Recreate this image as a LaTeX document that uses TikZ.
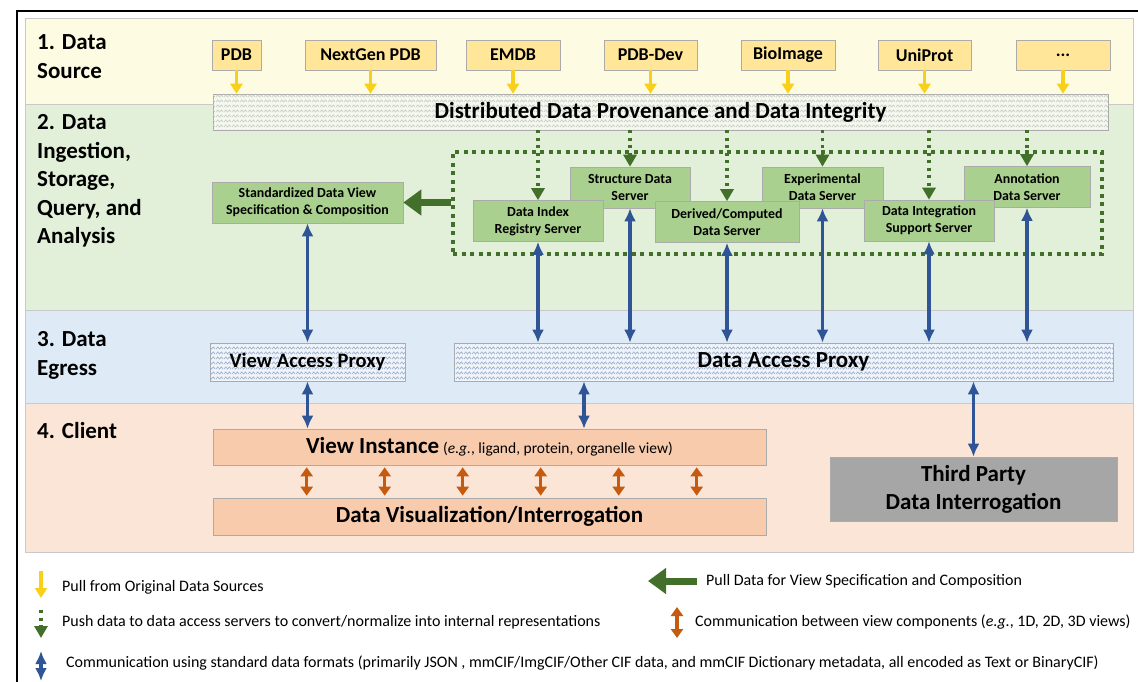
\documentclass[tikz,border=0pt]{standalone}
\usepackage{fontspec}
\setmainfont{Carlito}
\usepackage{tikz}
\usetikzlibrary{arrows.meta}
\usetikzlibrary{patterns}
\tikzset{>=latex}

\definecolor{bandyel}{HTML}{FEFBE3}
\definecolor{bandgrn}{HTML}{E2EFD9}
\definecolor{bandblu}{HTML}{DEEAF6}
\definecolor{bandpch}{HTML}{FBE5D6}
\definecolor{bandline}{HTML}{C9C9C9}
\definecolor{boxline}{HTML}{ABABAB}
\definecolor{srcfill}{HTML}{FFE699}
\definecolor{srvfill}{HTML}{A9D08E}
\definecolor{provfill}{HTML}{F4F8F0}
\definecolor{provzig}{HTML}{C6CEC0}
\definecolor{proxfill}{HTML}{F0F4FA}
\definecolor{proxzig}{HTML}{98AECA}
\definecolor{viewfill}{HTML}{F8CBAD}
\definecolor{thirdfill}{HTML}{A6A6A6}
\definecolor{pullyel}{HTML}{F8D01A}
\definecolor{pushgrn}{HTML}{42702A}
\definecolor{commblue}{HTML}{2F5597}
\definecolor{vieworg}{HTML}{C55A11}

\newcommand\bandfont{\bfseries\fontsize{23}{28.5}\selectfont}
\newcommand\srcfont{\bfseries\fontsize{18}{21}\selectfont}
\newcommand\bigfont{\bfseries\fontsize{23}{28}\selectfont}
\newcommand\srvfont{\bfseries\fontsize{13.9}{17}\selectfont}
\newcommand\legfont{\fontsize{16}{19}\selectfont}

% wavy fill of the provenance and proxy layers
\pgfdeclarepatternformonly{zigzag}{\pgfpoint{0pt}{0pt}}{\pgfpoint{8pt}{4.5pt}}{\pgfpoint{8pt}{4.5pt}}{%
  \pgfsetlinewidth{0.7pt}
  \pgfpathmoveto{\pgfpoint{0pt}{1pt}}
  \pgfpathlineto{\pgfpoint{2pt}{3.4pt}}
  \pgfpathlineto{\pgfpoint{4pt}{1pt}}
  \pgfpathlineto{\pgfpoint{6pt}{3.4pt}}
  \pgfpathlineto{\pgfpoint{8pt}{1pt}}
  \pgfusepath{stroke}}

\tikzset{
  band/.style={draw=bandline, line width=0.6pt},
  bandlabel/.style={anchor=north west, align=left, inner sep=0pt, font=\bandfont},
  srcbox/.style={draw=boxline, fill=srcfill, line width=0.6pt, inner sep=0pt,
    minimum height=30pt, font=\srcfont},
  srvbox/.style={draw=boxline, fill=srvfill, line width=0.6pt, inner sep=0pt,
    minimum height=41pt, align=center, font=\srvfont},
  provbox/.style={draw=boxline, fill=provfill, line width=0.6pt, inner sep=0pt,
    postaction={pattern=zigzag, pattern color=provzig}},
  proxybox/.style={draw=boxline, fill=proxfill, line width=0.6pt, inner sep=0pt,
    minimum height=38pt, postaction={pattern=zigzag, pattern color=proxzig}},
  viewbox/.style={draw=boxline, fill=viewfill, line width=0.6pt, inner sep=0pt,
    minimum width=553pt},
  pullarr/.style={draw=pullyel, line width=3.2pt, -{Triangle[length=10pt,width=12pt]}},
  pusharr/.style={draw=pushgrn, line width=3.4pt, dash pattern=on 3pt off 4.5pt,
    -{Triangle[length=12pt,width=13pt]}},
  commarr/.style={draw=commblue, line width=3.2pt,
    {Latex[length=13pt,width=12pt]}-{Latex[length=13pt,width=12pt]}},
  viewarr/.style={draw=vieworg, line width=3.2pt,
    {Triangle[length=9pt,width=12pt]}-{Triangle[length=9pt,width=12pt]}},
  specarr/.style={draw=pushgrn, line width=7pt, -{Triangle[length=18pt,width=25pt]}},
  legtext/.style={anchor=west, inner sep=0pt, font=\legfont},
}

\begin{document}
\begin{tikzpicture}[x=1pt, y=-1pt]
  \useasboundingbox (0,0) rectangle (1138,682);
  \fill[white] (0,0) rectangle (1138,682);

  % frame and the four layers
  \draw[line width=1.3pt] (17,682) -- (17,11) -- (1138,11);
  \filldraw[band, fill=bandyel] (25,18)  rectangle (1133,104);
  \filldraw[band, fill=bandgrn] (25,104) rectangle (1133,310);
  \filldraw[band, fill=bandblu] (25,310) rectangle (1133,403);
  \filldraw[band, fill=bandpch] (25,403) rectangle (1133,552);

  \node[bandlabel] (lay1) at (37,34.5)  {1. Data\\Source};
  \node[bandlabel] (lay2) at (37,114.5) {2. Data\\Ingestion,\\Storage,\\Query, and\\Analysis};
  \node[bandlabel] (lay3) at (37,331.5) {3. Data\\Egress};
  \node[bandlabel] (lay4) at (37,422.5) {4. Client};

  % data sources
  \node[srcbox, minimum width=49pt]  (pdb)     at (236.5,55)  {PDB};
  \node[srcbox, minimum width=131pt] (ngpdb)   at (370.5,55)  {NextGen PDB};
  \node[srcbox, minimum width=94pt]  (emdb)    at (513,55)    {EMDB};
  \node[srcbox, minimum width=93pt]  (pdbdev)  at (650.5,55)  {PDB-Dev};
  \node[srcbox, minimum width=94pt]  (bioimg)  at (788,55)    {BioImage};
  \node[srcbox, minimum width=93pt]  (uniprot) at (924.5,55)  {UniProt};
  \node[srcbox, minimum width=94pt]  (more)    at (1063,55)   {...};

  \node[provbox, minimum width=895pt, minimum height=36pt, font=\bigfont] (prov) at (660.5,112)
    {Distributed Data Provenance and Data Integrity};

  \foreach \s in {pdb,ngpdb,emdb,pdbdev,bioimg,uniprot,more}
    \draw[pullarr] (\s.south) -- (\s.south |- prov.north);

  % servers
  \node[draw=pushgrn, line width=4pt, dash pattern=on 4pt off 4.5pt, inner sep=0pt,
    minimum width=649pt, minimum height=102pt] (srvgrp) at (777.5,203) {};

  \node[srvbox, minimum width=191pt] (std) at (307.5,202.5)
    {Standardized Data View\\Specification \& Composition};

  \node[srvbox, minimum width=120pt] (struct)  at (630,187.5)   {Structure Data\\Server};
  \node[srvbox, minimum width=121pt] (expt)    at (822.5,187.5) {Experimental\\Data Server};
  \node[srvbox, minimum width=126pt] (annot)   at (1027,187)    {Annotation\\Data Server};
  \node[srvbox, minimum width=130pt] (idx)     at (538,221)     {Data Index\\Registry Server};
  \node[srvbox, minimum width=144pt] (derived) at (727,222)     {Derived/Computed\\Data Server};
  \node[srvbox, minimum width=130pt] (integ)   at (929,220.5)   {Data Integration\\Support Server};

  \foreach \s in {idx,struct,derived,expt,integ,annot}
    \draw[pusharr] (prov.south -| \s.north) -- (\s.north);

  \draw[specarr] (srvgrp.west |- std.east) -- (std.east);

  % egress
  \node[proxybox, minimum width=195pt, font=\bfseries\fontsize{20.5}{24}\selectfont] (vap)
    at (307.5,362) {View Access Proxy};
  \node[proxybox, minimum width=659pt, font=\bigfont] (dap)
    at (783.5,362) {Data Access Proxy};

  \draw[commarr] (std.south) -- (vap.north);
  \foreach \s in {idx,struct,derived,expt,integ,annot}
    \draw[commarr] (\s.south) -- (\s.south |- dap.north);

  % client
  \node[viewbox, minimum height=36pt] (vinst) at (489.5,447)
    {{\bigfont View Instance}\, {\fontsize{15.5}{18}\selectfont(\textit{e.g.}, ligand, protein, organelle view)}};
  \node[viewbox, minimum height=37pt, font=\bigfont] (dvis) at (489.5,516.5)
    {Data Visualization/Interrogation};
  \node[draw=boxline, fill=thirdfill, line width=0.6pt, inner sep=0pt, align=center,
    minimum width=287pt, minimum height=64pt, font=\bigfont] (third) at (973.5,489)
    {Third Party\\Data Interrogation};

  \coordinate (dapx) at (584,420);
  \draw[commarr] (vap.south) -- (vinst.north -| vap.south);
  \draw[commarr] (dapx |- dap.south) -- (dapx |- vinst.north);
  \draw[commarr] (third.north) -- (third.north |- dap.south);

  \foreach \i in {0,...,5}
    \draw[viewarr, shorten <=2pt, shorten >=2pt]
      ([xshift=94pt+\i*78pt]vinst.south west) -- ([xshift=94pt+\i*78pt]dvis.north west);

  % legend
  \coordinate (pullA) at (41,571);  \coordinate (pullB) at (41,598);
  \coordinate (pushA) at (41,610);  \coordinate (pushB) at (41,638);
  \coordinate (commA) at (41,651);  \coordinate (commB) at (41,681);
  \coordinate (specA) at (697,581); \coordinate (specB) at (648,581);
  \coordinate (viewA) at (677,607); \coordinate (viewB) at (677,638);

  \draw[pullarr] (pullA) -- (pullB);
  \draw[pusharr] (pushA) -- (pushB);
  \draw[commarr] (commA) -- (commB);
  \draw[specarr] (specA) -- (specB);
  \draw[viewarr] (viewA) -- (viewB);

  \node[legtext] (legpull) at (62,587) {Pull from Original Data Sources};
  \node[legtext] (legpush) at (62,622) {Push data to data access servers to convert/normalize into internal representations};
  \node[legtext] (legcomm) at (66,663) {Communication using standard data formats (primarily JSON , mmCIF/ImgCIF/Other CIF data, and mmCIF Dictionary metadata, all encoded as Text or BinaryCIF)};
  \node[legtext] (legspec) at (706,581) {Pull Data for View Specification and Composition};
  \node[legtext] (legview) at (695,622) {Communication between view components (\textit{e.g.}, 1D, 2D, 3D views)};
\end{tikzpicture}
\end{document}
